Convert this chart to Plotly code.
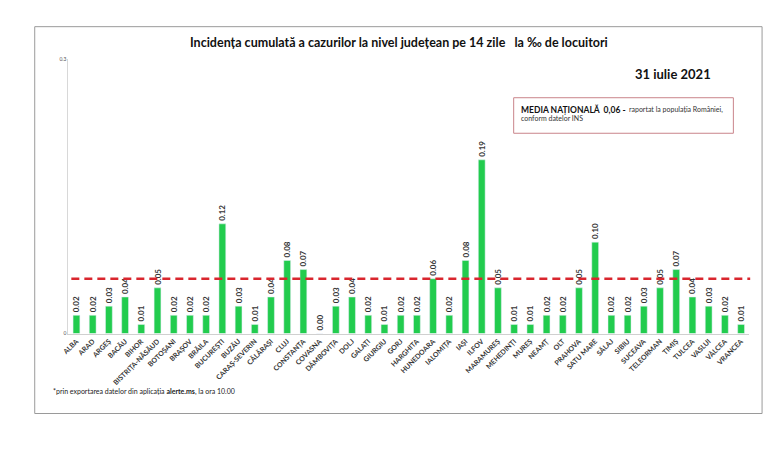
import plotly.graph_objects as go

# Incidenta cumulata pe 14 zile la 1000 de locuitori, 31 iulie 2021
judete = ["ALBA", "ARAD", "ARGEȘ", "BACĂU", "BIHOR", "BISTRIȚA-NĂSĂUD", "BOTOȘANI",
          "BRAȘOV", "BRĂILA", "BUCUREȘTI", "BUZĂU", "CARAȘ-SEVERIN", "CĂLĂRAȘI", "CLUJ",
          "CONSTANȚA", "COVASNA", "DÂMBOVIȚA", "DOLJ", "GALAȚI", "GIURGIU", "GORJ",
          "HARGHITA", "HUNEDOARA", "IALOMIȚA", "IAȘI", "ILFOV", "MARAMUREȘ", "MEHEDINȚI",
          "MUREȘ", "NEAMȚ", "OLT", "PRAHOVA", "SATU MARE", "SĂLAJ", "SIBIU", "SUCEAVA",
          "TELEORMAN", "TIMIȘ", "TULCEA", "VASLUI", "VÂLCEA", "VRANCEA"]
incidenta = [0.02, 0.02, 0.03, 0.04, 0.01, 0.05, 0.02,
             0.02, 0.02, 0.12, 0.03, 0.01, 0.04, 0.08,
             0.07, 0.00, 0.03, 0.04, 0.02, 0.01, 0.02,
             0.02, 0.06, 0.02, 0.08, 0.19, 0.05, 0.01,
             0.01, 0.02, 0.02, 0.05, 0.10, 0.02, 0.02, 0.03,
             0.05, 0.07, 0.04, 0.03, 0.02, 0.01]
media_nationala = 0.06
y_ticks = [0, 0.3]
y_ticktext = ["0", "0.3"]

W, H = 768, 454
FONT = "Lato, 'Open Sans', sans-serif"


def px(x):
    return x / W


def py(y):
    return 1 - y / H


fig = go.Figure()

fig.add_trace(go.Bar(
    x=judete,
    y=incidenta,
    marker_color="#22cc4e",
    width=0.42,
    text=[f"{v:.2f}" for v in incidenta],
    textposition="outside",
    textangle=-90,
    constraintext="none",
    cliponaxis=False,
    textfont=dict(family=FONT, size=8, color="#333333", weight="bold"),
    showlegend=False,
))

# linia mediei nationale
fig.add_shape(type="line", xref="paper", yref="y",
              x0=px(64), x1=px(750), y0=media_nationala, y1=media_nationala,
              line=dict(color="#d9262e", width=2.5, dash="8px,5px"))

# chenar exterior
fig.add_shape(type="rect", xref="paper", yref="paper",
              x0=px(27), x1=px(762), y0=py(416), y1=py(24),
              line=dict(color="#9a9a9a", width=1), layer="below")

# caseta media nationala
fig.add_shape(type="rect", xref="paper", yref="paper",
              x0=px(511), x1=px(733), y0=py(132), y1=py(96),
              line=dict(color="#c9848a", width=1))

fig.add_annotation(xref="paper", yref="paper", x=px(516), y=py(108),
                   xanchor="left", yanchor="middle", showarrow=False,
                   text="<b>MEDIA NAȚIONALĂ  0,06 -</b>",
                   font=dict(family=FONT, size=8.5, color="#111111"))
fig.add_annotation(xref="paper", yref="paper", x=px(626), y=py(108),
                   xanchor="left", yanchor="middle", showarrow=False,
                   text="raportat la populația României,",
                   font=dict(family=FONT, size=7, color="#333333"))
fig.add_annotation(xref="paper", yref="paper", x=px(516), y=py(117),
                   xanchor="left", yanchor="middle", showarrow=False,
                   text="conform datelor INS",
                   font=dict(family=FONT, size=7, color="#333333"))

# titlu, data, nota
fig.add_annotation(xref="paper", yref="paper", x=px(395), y=py(40),
                   xanchor="center", yanchor="middle", showarrow=False,
                   text="<b>Incidența cumulată a cazurilor la nivel județean pe 14 zile   la ‰ de locuitori</b>",
                   font=dict(family=FONT, size=12.5, color="#111111"))
fig.add_annotation(xref="paper", yref="paper", x=px(712), y=py(72),
                   xanchor="right", yanchor="middle", showarrow=False,
                   text="<b>31 iulie 2021</b>",
                   font=dict(family=FONT, size=13, color="#111111"))
fig.add_annotation(xref="paper", yref="paper", x=px(43), y=py(394),
                   xanchor="left", yanchor="middle", showarrow=False,
                   text="*prin exportarea datelor din aplicația <b>alerte.ms</b>, la ora 10.00",
                   font=dict(family=FONT, size=7, color="#222222"))

fig.update_layout(
    width=W, height=H,
    margin=dict(l=0, r=0, t=0, b=0),
    paper_bgcolor="white",
    plot_bgcolor="white",
    xaxis=dict(
        domain=[px(61), px(749)],
        tickangle=-45,
        tickfont=dict(family=FONT, size=7, color="#333333", weight="bold"),
        showline=True, linecolor="#d0d0d0", linewidth=1,
        ticks="", showgrid=False,
    ),
    yaxis=dict(
        domain=[py(335), py(57)],
        range=[0, 0.3],
        tickvals=y_ticks, ticktext=y_ticktext,
        tickfont=dict(family=FONT, size=5, color="#555555"),
        showline=True, linecolor="#d8d8d8", linewidth=1,
        showgrid=False, zeroline=False, ticks="",
    ),
)

fig.write_html("out.html", config={"displayModeBar": False},
               post_script="document.body.style.margin='0px';")
